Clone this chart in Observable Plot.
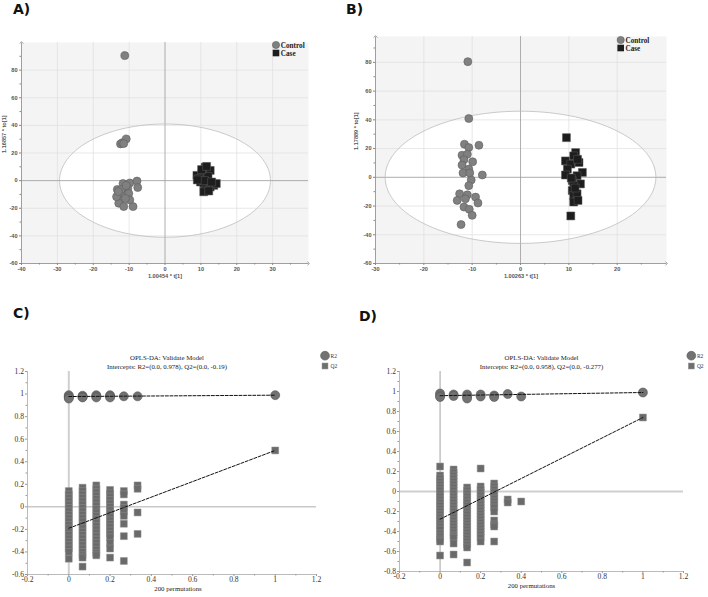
<!DOCTYPE html>
<html><head><meta charset="utf-8">
<script src="https://cdn.jsdelivr.net/npm/d3@7"></script>
<script src="https://cdn.jsdelivr.net/npm/@observablehq/plot@0.6"></script>
<style>
body{margin:0;background:#fff;}
#root{position:relative;width:708px;height:597px;overflow:hidden;background:#fff;}
.pl{position:absolute;}
.pl svg{overflow:visible;}
</style></head><body><div id="root"></div>
<script>
// ---------- Panel A (OPLS-DA score plot) ----------
const aCtrlX = [-11.2, -12.4, -11.9, -10.8, -11.5, -11.7, -9.8, -7.8, -7.6, -13.3, -10.4, -12.9, -11.5, -10.1, -12.4, -9.8, -12.9, -11.5, -8.9, -13.5, -11.0, -12.2, -10.8, -13.0];
const aCtrlY = [90.5, 26.6, 27.5, 30.2, 26.8, -2.1, -1.7, -0.3, -5.0, -6.4, -5.7, -10.5, -9.3, -9.3, -14.0, -14.0, -16.4, -18.8, -18.8, -11.7, -12.9, -6.5, -3.5, -8.0];
const aCaseX = [11.2, 8.9, 12.6, 10.3, 11.7, 9.4, 9.9, 10.8, 13.6, 12.6, 11.2, 14.3, 10.8, 12.0, 11.0, 13.0, 10.2, 12.2, 11.6, 9.0];
const aCaseY = [9.7, 3.8, 7.4, 5.0, 1.4, 1.4, -1.0, -2.1, -3.4, -4.6, -6.9, -2.1, -8.1, 3.0, 0.0, -1.0, 8.0, -7.5, 10.3, 0.5];
const aEllipse = [29.4, 41];
const aXTicks = [-40, -30, -20, -10, 0, 10, 20, 30];
const aYTicks = [-60, -40, -20, 0, 20, 40, 60, 80];
const aXLabel = "1.00454 * t[1]";
const aYLabel = "1.16857 * to[1]";

// ---------- Panel B (OPLS-DA score plot) ----------
const bCtrlX = [-10.9, -10.7, -11.6, -10.7, -8.6, -12.1, -11.0, -11.7, -9.9, -12.1, -10.7, -11.9, -10.5, -7.9, -10.2, -10.7, -12.6, -11.0, -9.3, -13.1, -11.4, -8.8, -11.7, -10.6, -10.0, -12.3];
const bCtrlY = [80.5, 40.9, 23.0, 20.7, 22.3, 15.4, 16.0, 12.2, 10.8, 8.5, 5.7, 3.0, 3.0, 1.6, -1.9, -5.8, -11.5, -12.2, -13.8, -16.1, -15.0, -17.9, -20.7, -22.3, -26.5, -32.9];
const bCaseX = [9.5, 11.4, 11.0, 12.1, 9.3, 10.4, 9.7, 12.8, 9.3, 11.7, 10.7, 12.4, 11.0, 10.7, 11.0, 11.7, 11.0, 11.9, 10.4, 11.8, 10.5, 11.3];
const bCaseY = [27.6, 17.2, 14.9, 10.3, 11.4, 9.2, 5.7, 3.4, 1.6, 1.1, -2.3, -4.6, -5.8, -9.2, -12.7, -11.5, -17.2, -16.1, -26.9, 12.5, -0.5, -7.5];
const bEllipse = [28, 46];
const bXTicks = [-30, -20, -10, 0, 10, 20];
const bYTicks = [-60, -40, -20, 0, 20, 40, 60, 80];
const bXLabel = "1.00263 * t[1]";
const bYLabel = "1.17889 * to[1]";

// ---------- Panels C & D (permutation tests) ----------
const permX = [0, 0.0667, 0.1333, 0.2, 0.2667, 0.3333, 0.4, 1];
const cR2 = [[0.99, 0.98, 0.97, 0.96], [0.985, 0.975, 0.97], [0.99, 0.98, 0.97], [0.99, 0.98, 0.97], [0.98], [0.98], [], [0.99]];
const cQ2 = [
  [0.14, 0.11, 0.08, 0.05, 0.02, -0.01, -0.04, -0.07, -0.10, -0.13, -0.16, -0.19, -0.22, -0.25, -0.28, -0.31, -0.34, -0.37, -0.40, -0.46],
  [0.17, 0.14, 0.11, 0.08, 0.05, 0.02, -0.01, -0.04, -0.07, -0.10, -0.13, -0.16, -0.19, -0.22, -0.25, -0.28, -0.31, -0.34, -0.37, -0.40, -0.43, -0.45, -0.53],
  [0.19, 0.16, 0.13, 0.10, 0.07, 0.04, 0.01, -0.02, -0.05, -0.08, -0.11, -0.14, -0.17, -0.20, -0.23, -0.26, -0.29, -0.32, -0.35, -0.38, -0.41, -0.43],
  [0.15, 0.12, 0.09, 0.06, 0.03, 0.00, -0.03, -0.06, -0.09, -0.12, -0.15, -0.18, -0.21, -0.24, -0.27, -0.32, -0.37, -0.45],
  [0.14, 0.11, 0.02, -0.01, -0.04, -0.08, -0.15, -0.26, -0.48],
  [0.19, 0.16, -0.05, -0.24],
  [],
  [0.50]
];
const cLineX = [0, 1];
const cLineR2 = [0.978, 0.99];
const cLineQ2 = [-0.19, 0.50];
const cTitle = ["OPLS-DA: Validate Model", "Intercepts: R2=(0.0, 0.978), Q2=(0.0, -0.19)"];

const dR2 = [[0.98, 0.96, 0.945], [0.97, 0.955], [0.97, 0.95, 0.93], [0.97, 0.95], [0.96, 0.945], [0.975], [0.95], [0.99]];
const dQ2 = [
  [0.25, 0.16, 0.13, 0.10, 0.07, 0.04, 0.01, -0.02, -0.05, -0.08, -0.11, -0.14, -0.17, -0.20, -0.23, -0.26, -0.29, -0.32, -0.35, -0.38, -0.42, -0.45, -0.48, -0.50, -0.64],
  [0.22, 0.19, 0.16, 0.13, 0.10, 0.07, 0.04, 0.01, -0.02, -0.05, -0.08, -0.11, -0.14, -0.17, -0.20, -0.23, -0.26, -0.29, -0.32, -0.35, -0.38, -0.41, -0.44, -0.46, -0.52, -0.63],
  [0.04, 0.01, -0.02, -0.05, -0.08, -0.11, -0.14, -0.17, -0.20, -0.23, -0.26, -0.29, -0.32, -0.35, -0.38, -0.41, -0.44, -0.47, -0.50, -0.53, -0.56, -0.71],
  [0.23, 0.05, 0.02, -0.01, -0.04, -0.07, -0.10, -0.13, -0.16, -0.19, -0.22, -0.25, -0.28, -0.31, -0.34, -0.37, -0.40, -0.43, -0.46, -0.50],
  [0.08, 0.05, 0.02, -0.01, -0.04, -0.07, -0.10, -0.13, -0.16, -0.20, -0.29, -0.33, -0.35, -0.50],
  [-0.08, -0.11],
  [-0.10],
  [0.74]
];
const dLineX = [0, 1];
const dLineR2 = [0.958, 0.99];
const dLineQ2 = [-0.277, 0.74];
const dTitle = ["OPLS-DA: Validate Model", "Intercepts: R2=(0.0, 0.958), Q2=(0.0, -0.277)"];

const permXTicks = [-0.2, 0, 0.2, 0.4, 0.6, 0.8, 1, 1.2];
const permXMinor = [-0.1, 0.1, 0.3, 0.5, 0.7, 0.9, 1.1];
const cYTicks = [-0.6, -0.4, -0.2, 0, 0.2, 0.4, 0.6, 0.8, 1, 1.2];
const dYTicks = [-0.8, -0.6, -0.4, -0.2, 0, 0.2, 0.4, 0.6, 0.8, 1, 1.2];
const permXLabel = "200 permutations";

// ---------- helpers ----------
const root = document.getElementById("root");
function place(node, left, top) {
  const d = document.createElement("div");
  d.className = "pl"; d.style.left = left + "px"; d.style.top = top + "px";
  d.appendChild(node); root.appendChild(d);
}
const pts = (xs, ys) => xs.map((x, i) => ({x, y: ys[i]}));
const ellipsePts = ([a, b]) => d3.range(0, 361, 2).map(t => ({x: a * Math.cos(t * Math.PI / 180), y: b * Math.sin(t * Math.PI / 180)}));
const mid = (t) => t.slice(0, -1).map((v, i) => (v + t[i + 1]) / 2);

function scorePlot(o) {
  const [x0, x1] = o.xDomain, [y0, y1] = o.yDomain;
  const ell = ellipsePts(o.ell);
  const grid = (t) => t.filter(v => v !== 0 && v !== t[0]);
  const xMinor = mid(o.xTicks).concat([o.xTicks[o.xTicks.length - 1] + 5]);
  const yMinor = mid(o.yTicks).concat([o.yTicks[o.yTicks.length - 1] + 10]);
  const tc = "#555";
  return Plot.plot({
    width: 354, height: o.height,
    marginTop: o.m[0], marginRight: o.m[1], marginBottom: o.m[2], marginLeft: o.m[3],
    x: {domain: o.xDomain, label: null}, y: {domain: o.yDomain, label: null},
    style: {fontFamily: "'Liberation Sans', Arial, sans-serif", fontSize: "5.6px", fontWeight: "bold", color: tc, background: "transparent"},
    marks: [
      Plot.frame({fill: "#f4f4f4", stroke: null}),
      Plot.line(ell, {x: "x", y: "y", fill: "white", stroke: "none"}),
      Plot.ruleX(grid(o.xTicks), {stroke: "#dedede", strokeWidth: 0.7}),
      Plot.ruleY(grid(o.yTicks), {stroke: "#dedede", strokeWidth: 0.7}),
      Plot.ruleX([0], {stroke: "#999", strokeWidth: 0.8}),
      Plot.ruleY([0], {stroke: "#999", strokeWidth: 0.8}),
      Plot.line(ell, {x: "x", y: "y", stroke: "#bdbdbd", strokeWidth: 0.8}),
      Plot.link([{a: x0, b: x1, c: y0, d: y0}, {a: x0, b: x0, c: y0, d: y1}], {x1: "a", x2: "b", y1: "c", y2: "d", stroke: "#888", strokeWidth: 0.8, markerEnd: "arrow"}),
      Plot.axisX({ticks: o.xTicks, tickFormat: d => String(d), tickSize: 2, tickPadding: 2, stroke: "#888", fill: tc, label: null}),
      Plot.axisX({ticks: xMinor.filter(v => v < x1), tickFormat: () => "", tickSize: 1.5, stroke: "#888", label: null}),
      Plot.axisY({ticks: o.yTicks, tickFormat: d => String(d), tickSize: 2, tickPadding: 2, stroke: "#888", fill: tc, label: null}),
      Plot.axisY({ticks: yMinor.filter(v => v < y1), tickFormat: () => "", tickSize: 1.5, stroke: "#888", label: null}),
      Plot.text([o.xLabel], {text: d => d, frameAnchor: "bottom", dy: 14, fill: tc}),
      Plot.text([o.yLabel], {text: d => d, frameAnchor: "left", dx: o.yLabelDx, rotate: -90, fill: tc}),
      Plot.dot(pts(o.ctrlX, o.ctrlY), {x: "x", y: "y", r: 4, fill: "#808080", stroke: "#5e5e5e", strokeWidth: 0.6}),
      Plot.dot(pts(o.caseX, o.caseY), {x: "x", y: "y", symbol: "square", r: 4.5, fill: "#1d1d1d", stroke: "#5a5a5a", strokeWidth: 0.5})
    ]
  });
}

function permPlot(o) {
  const r2 = [], q2 = [];
  permX.forEach((x, i) => {
    o.r2[i].forEach(v => r2.push({x, y: v}));
    o.q2[i].forEach(v => q2.push({x, y: v}));
  });
  const yMin = o.yTicks[0];
  const yMinor = mid(o.yTicks);
  const serif = "'Liberation Serif', 'Times New Roman', serif";
  const tc = "#333";
  return Plot.plot({
    width: 354, height: 297,
    marginTop: o.m[0], marginRight: o.m[1], marginBottom: o.m[2], marginLeft: o.m[3],
    x: {domain: [-0.2, 1.2], label: null}, y: {domain: [yMin, 1.2], label: null},
    style: {fontFamily: serif, fontSize: "7.6px", color: tc, background: "transparent"},
    marks: [
      Plot.ruleX([0], o.vLine),
      Plot.ruleY([0], o.hLine),
      Plot.ruleX([-0.2], {stroke: "#aaa", strokeWidth: 0.8}),
      Plot.ruleY([yMin], {stroke: "#aaa", strokeWidth: 0.8}),
      Plot.axisX({ticks: permXTicks, tickFormat: d => String(d), tickSize: 2, tickPadding: 0.5, stroke: "#999", fill: tc, label: null}),
      Plot.axisX({ticks: permXMinor, tickFormat: () => "", tickSize: 1.5, stroke: "#999", label: null}),
      Plot.axisY({ticks: o.yTicks, tickFormat: d => String(d), tickSize: 2, tickPadding: 1.5, stroke: "#999", fill: tc, label: null}),
      Plot.axisY({ticks: yMinor, tickFormat: () => "", tickSize: 1.5, stroke: "#999", label: null}),
      Plot.dot(q2, {x: "x", y: "y", symbol: "square", r: 3.9, fill: "#6a6a6a", stroke: "#8e8e8e", strokeWidth: 0.5}),
      Plot.dot(r2, {x: "x", y: "y", r: 4.5, fill: "#727272", stroke: "#555", strokeWidth: 0.6}),
      Plot.line(pts(o.lineX, o.lineR2), {x: "x", y: "y", stroke: "#111", strokeWidth: 1, strokeDasharray: "3,1.6"}),
      Plot.line(pts(o.lineX, o.lineQ2), {x: "x", y: "y", stroke: "#111", strokeWidth: 1, strokeDasharray: "3,1.6"}),
      Plot.text([o.title[0]], {text: d => d, frameAnchor: "top", dx: o.titleDx, dy: -16, fontSize: 6.8, fill: "#222"}),
      Plot.text([o.title[1]], {text: d => d, frameAnchor: "top", dx: o.titleDx, dy: -7.5, fontSize: 6.8, fill: "#222"}),
      Plot.text([permXLabel], {text: d => d, frameAnchor: "bottom", dx: o.labelDx, dy: o.labelDy, fontSize: 6.8, fill: "#222"})
    ]
  });
}

// ---------- draw ----------
place(scorePlot({ctrlX: aCtrlX, ctrlY: aCtrlY, caseX: aCaseX, caseY: aCaseY, ell: aEllipse,
  xDomain: [-40, 40], yDomain: [-60, 100], xTicks: aXTicks, yTicks: aYTicks,
  xLabel: aXLabel, yLabel: aYLabel, yLabelDx: -17, height: 270, m: [12, 46, 37, 21]}), 0, 30);

place(scorePlot({ctrlX: bCtrlX, ctrlY: bCtrlY, caseX: bCaseX, caseY: bCaseY, ell: bEllipse,
  xDomain: [-30, 30.2], yDomain: [-60, 98], xTicks: bXTicks, yTicks: bYTicks,
  xLabel: bXLabel, yLabel: bYLabel, yLabelDx: -19, height: 275, m: [11, 42, 37, 21]}), 354, 25);

place(permPlot({r2: cR2, q2: cQ2, lineX: cLineX, lineR2: cLineR2, lineQ2: cLineQ2, title: cTitle, yTicks: cYTicks,
  vLine: {stroke: "#cfcfcf", strokeWidth: 2}, hLine: {stroke: "#9a9a9a", strokeWidth: 0.8},
  titleDx: -5, labelDx: 6, labelDy: 16.5, m: [71, 38, 23, 27]}), 0, 300);

place(permPlot({r2: dR2, q2: dQ2, lineX: dLineX, lineR2: dLineR2, lineQ2: dLineQ2, title: dTitle, yTicks: dYTicks,
  vLine: {stroke: "#8a8a8a", strokeWidth: 0.8}, hLine: {stroke: "#cfcfcf", strokeWidth: 2},
  titleDx: 0, labelDx: -10, labelDy: 16, m: [71, 25, 26, 45]}), 354, 300);

// ---------- overlay: panel letters and legends ----------
const ov = d3.select(root).append("svg").attr("width", 708).attr("height", 597)
  .style("position", "absolute").style("left", "0px").style("top", "0px");
const letters = [["A)", 13, 13.5], ["B)", 346, 13.5], ["C)", 13, 317.5], ["D)", 359, 320.5]];
ov.selectAll("text.lt").data(letters).join("text").attr("class", "lt")
  .attr("x", d => d[1]).attr("y", d => d[2]).text(d => d[0])
  .style("font", "bold 14px 'DejaVu Sans', sans-serif").style("fill", "#111");

const scoreLegend = ["Control", "Case"];
function legendScore(cx, cy) {
  const g = ov.append("g").style("font", "bold 7.2px 'Liberation Serif', serif").style("fill", "#222");
  g.append("circle").attr("cx", cx).attr("cy", cy).attr("r", 3.6).attr("fill", "#808080").attr("stroke", "#5e5e5e").attr("stroke-width", 0.6);
  g.append("text").attr("x", cx + 4.8).attr("y", cy + 2.5).text(scoreLegend[0]);
  g.append("rect").attr("x", cx - 3.3).attr("y", cy + 4.7).attr("width", 6.6).attr("height", 6.6).attr("fill", "#1d1d1d");
  g.append("text").attr("x", cx + 4.8).attr("y", cy + 10.5).text(scoreLegend[1]);
}
legendScore(276, 45);
legendScore(620.7, 40);

const permLegend = ["R2", "Q2"];
function legendPerm(cx, cy) {
  const g = ov.append("g").style("font", "5.5px 'Liberation Serif', serif").style("fill", "#333");
  g.append("circle").attr("cx", cx).attr("cy", cy).attr("r", 4.4).attr("fill", "#727272").attr("stroke", "#555").attr("stroke-width", 0.6);
  g.append("text").attr("x", cx + 5.6).attr("y", cy + 2).text(permLegend[0]);
  g.append("rect").attr("x", cx - 3).attr("y", cy + 7.3).attr("width", 6).attr("height", 6).attr("fill", "#6f6f6f").attr("stroke", "#999").attr("stroke-width", 0.5);
  g.append("text").attr("x", cx + 5.6).attr("y", cy + 12.3).text(permLegend[1]);
}
legendPerm(325, 355.7);
legendPerm(691.3, 355.7);
</script></body></html>
